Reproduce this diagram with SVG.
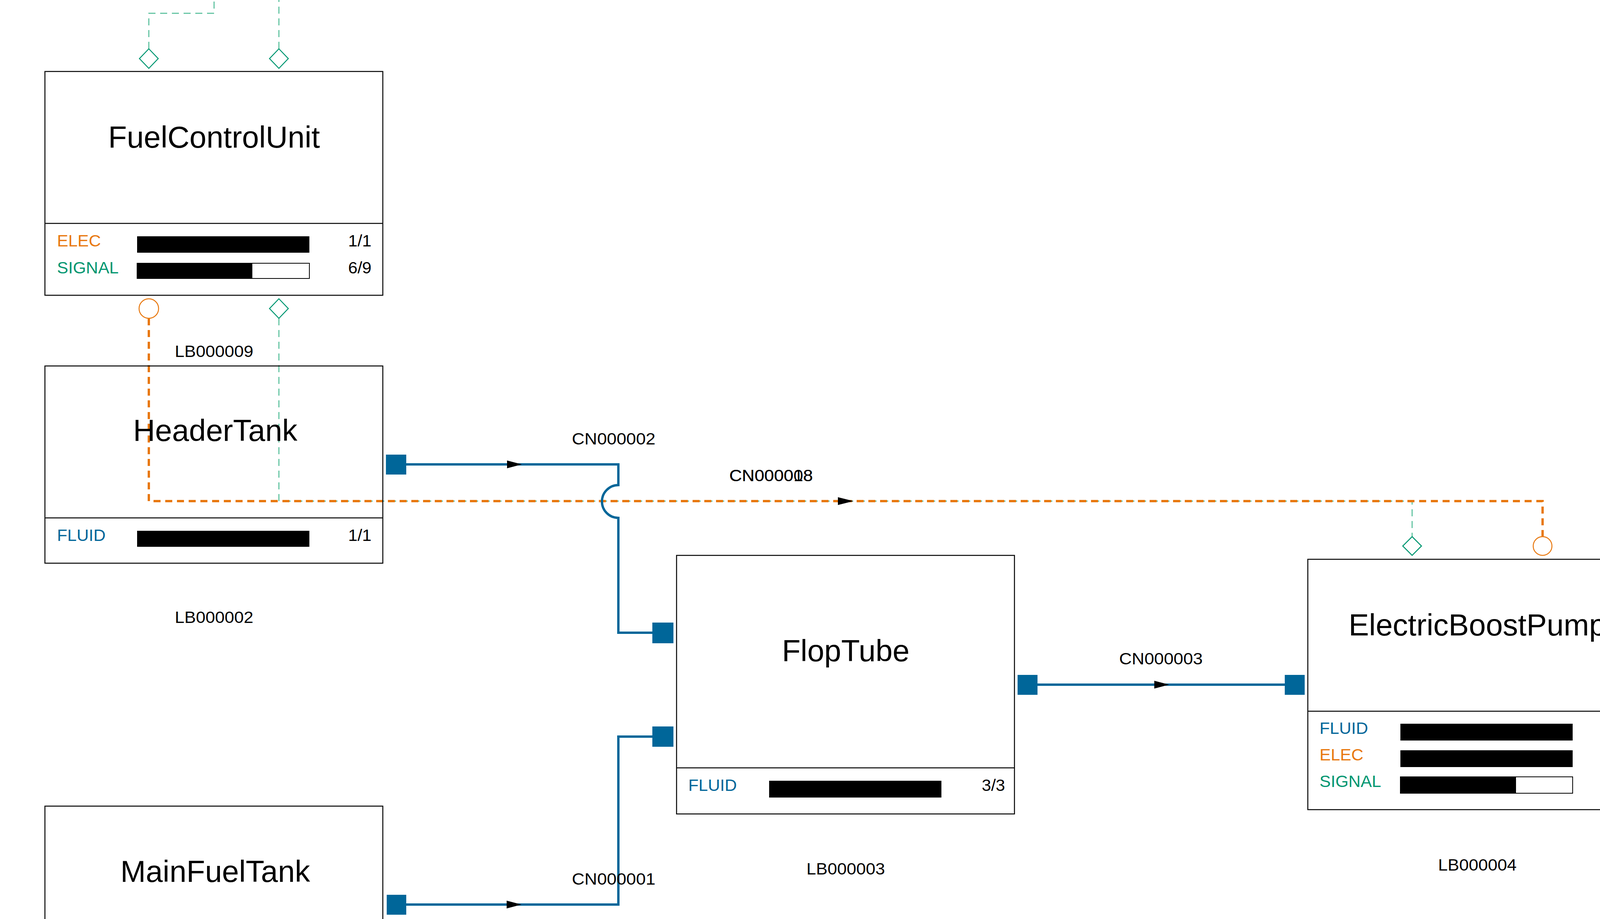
<svg xmlns="http://www.w3.org/2000/svg" width="4517" height="2353" viewBox="0 0 4517 2353">
<style>
.box{fill:#fff;stroke:#000;stroke-width:2.5}
.title{font-family:"Liberation Sans",Arial,sans-serif;font-size:78px;text-anchor:middle;fill:#000}
.row{font-family:"Liberation Sans",Arial,sans-serif;font-size:43px}
.num{font-family:"Liberation Sans",Arial,sans-serif;font-size:43px;text-anchor:end;fill:#000}
.lbl{font-family:"Liberation Sans",Arial,sans-serif;font-size:42px;fill:#000}
.fl{fill:#006699}.el{fill:#e8780f}.sg{fill:#009670}
.barbg{fill:#fff;stroke:#000;stroke-width:2}
.port{fill:#006699}
.fluid{fill:none;stroke:#006699;stroke-width:6}
.elec{fill:none;stroke:#e8780f;stroke-width:6;stroke-dasharray:18 12}
.sig{fill:none;stroke:#4dbb95;stroke-width:2.5;stroke-dasharray:18 12}
.dia{fill:#fff;stroke:#009670;stroke-width:2.5}
.circ{fill:#fff;stroke:#e8780f;stroke-width:2.5}
</style>
<rect width="4517" height="2353" fill="#fff"/>
<g id="connectors">
<path class="sig" d="M381,125 V34 H548 V0"/>
<path class="sig" d="M714,125 V0"/>
<path class="sig" d="M714,815 V1283 H3615 V1374"/>
<path class="elec" d="M381,815 V1283 H3949 V1374"/>
<polygon points="2145,1273 2185,1283 2145,1293" fill="#000"/>
<path class="fluid" d="M1040,1189 H1583 V1242 A42,42 0 0 0 1583,1326 V1620 H1670"/>
<polygon points="1298,1179 1336,1189 1298,1199" fill="#000"/>
<path class="fluid" d="M1040,2316 H1583 V1886 H1670"/>
<polygon points="1297,2306 1335,2316 1297,2326" fill="#000"/>
<path class="fluid" d="M2656,1753 H3289"/>
<polygon points="2955,1743 2993,1753 2955,1763" fill="#000"/>
<path class="fluid" d="M4275,1753 H4517"/>
<text class="lbl" x="1464" y="1138" textLength="214" lengthAdjust="spacingAndGlyphs">CN000002</text>
<text class="lbl" x="1867" y="1232" textLength="214" lengthAdjust="spacingAndGlyphs">CN000008</text>
<text class="lbl" x="1867" y="1232" textLength="214" lengthAdjust="spacingAndGlyphs">CN000018</text>
<text class="lbl" x="1464" y="2265" textLength="214" lengthAdjust="spacingAndGlyphs">CN000001</text>
<text class="lbl" x="2865" y="1701" textLength="214" lengthAdjust="spacingAndGlyphs">CN000003</text>
<text class="lbl" x="4481" y="1701" textLength="214" lengthAdjust="spacingAndGlyphs">CN000004</text>
</g>
<g id="FuelControlUnit">
<rect class="box" x="115" y="183" width="865" height="573"/>
<line x1="115" y1="572" x2="980" y2="572" stroke="#000" stroke-width="2.5"/>
<text class="title" x="548" y="378">FuelControlUnit</text>
<text class="row el" x="146" y="631">ELEC</text>
<rect x="351" y="605" width="441" height="42" fill="#000"/>
<text class="num" x="951" y="631">1/1</text>
<text class="row sg" x="146" y="700">SIGNAL</text>
<rect class="barbg" x="351" y="674" width="441" height="39"/>
<rect x="351" y="674" width="295" height="39" fill="#000"/>
<text class="num" x="951" y="700">6/9</text>
<polygon class="dia" points="381,125 405,150 381,175 357,150"/>
<polygon class="dia" points="714,125 738,150 714,175 690,150"/>
<circle class="circ" cx="381" cy="790" r="25"/>
<polygon class="dia" points="714,765 738,790 714,815 690,790"/>
<text class="lbl" x="548" y="914" text-anchor="middle" textLength="201" lengthAdjust="spacingAndGlyphs">LB000009</text>
</g>
<g id="HeaderTank">
<rect class="box" x="115" y="937" width="865" height="505" fill-opacity="0"/>
<line x1="115" y1="1326" x2="980" y2="1326" stroke="#000" stroke-width="2.5"/>
<text class="title" x="551" y="1129">HeaderTank</text>
<text class="row fl" x="146" y="1385">FLUID</text>
<rect x="351" y="1359" width="441" height="41" fill="#000"/>
<text class="num" x="951" y="1385">1/1</text>
<rect class="port" x="988" y="1164" width="52" height="51"/>
<text class="lbl" x="548" y="1595" text-anchor="middle" textLength="201" lengthAdjust="spacingAndGlyphs">LB000002</text>
</g>
<g id="MainFuelTank">
<rect class="box" x="115" y="2064" width="865" height="400"/>
<text class="title" x="551" y="2258">MainFuelTank</text>
<rect class="port" x="990" y="2291" width="50" height="51"/>
</g>
<g id="FlopTube">
<rect class="box" x="1732" y="1422" width="865" height="662"/>
<line x1="1732" y1="1966" x2="2597" y2="1966" stroke="#000" stroke-width="2.5"/>
<text class="title" x="2165" y="1693">FlopTube</text>
<text class="row fl" x="1762" y="2025">FLUID</text>
<rect x="1969" y="1999" width="441" height="43" fill="#000"/>
<text class="num" x="2573" y="2025">3/3</text>
<rect class="port" x="1670" y="1594" width="54" height="53"/>
<rect class="port" x="1670" y="1860" width="54" height="52"/>
<rect class="port" x="2605" y="1728" width="51" height="51"/>
<text class="lbl" x="2165" y="2239" text-anchor="middle" textLength="201" lengthAdjust="spacingAndGlyphs">LB000003</text>
</g>
<g id="ElectricBoostPump">
<rect class="box" x="3348" y="1432" width="865" height="641"/>
<line x1="3348" y1="1821" x2="4213" y2="1821" stroke="#000" stroke-width="2.5"/>
<text class="title" x="3782" y="1627">ElectricBoostPump</text>
<text class="row fl" x="3378" y="1879">FLUID</text>
<rect x="3585" y="1853" width="441" height="43" fill="#000"/>
<text class="num" x="4189" y="1879">2/2</text>
<text class="row el" x="3378" y="1947">ELEC</text>
<rect x="3585" y="1921" width="441" height="43" fill="#000"/>
<text class="num" x="4189" y="1947">1/1</text>
<text class="row sg" x="3378" y="2015">SIGNAL</text>
<rect class="barbg" x="3585" y="1989" width="441" height="42"/>
<rect x="3585" y="1989" width="296" height="42" fill="#000"/>
<text class="num" x="4189" y="2015">2/3</text>
<polygon class="dia" points="3615,1374 3639,1398 3615,1422 3591,1398"/>
<circle class="circ" cx="3949" cy="1398" r="24"/>
<rect class="port" x="3289" y="1728" width="51" height="51"/>
<rect class="port" x="4223" y="1728" width="52" height="51"/>
<text class="lbl" x="3782" y="2229" text-anchor="middle" textLength="201" lengthAdjust="spacingAndGlyphs">LB000004</text>
</g>
</svg>
